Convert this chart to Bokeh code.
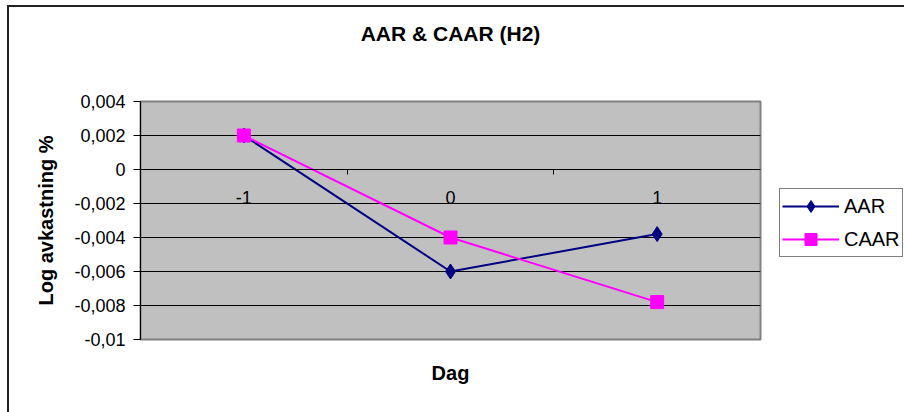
from bokeh.plotting import figure
from bokeh.layouts import row
from bokeh.models import (Range1d, FixedTicker, CustomJSTickFormatter, LinearAxis,
                          Legend, LegendItem)
from bokeh.core.properties import value
from bokeh.embed import file_html
from bokeh.resources import INLINE

# Event days and the abnormal-return series
days = ["-1", "0", "1"]
aar = [0.002, -0.006, -0.0038]
caar = [0.002, -0.004, -0.0078]
y_ticks = [-0.01, -0.008, -0.006, -0.004, -0.002, 0.0, 0.002, 0.004]

FONT = "Liberation Sans"
AAR_COLOR = "#000080"
CAAR_COLOR = "#FF00FF"

# categories sit in the middle of equal-width slots
xs = [i + 0.5 for i in range(len(days))]
slot_edges = [float(i) for i in range(1, len(days))]

p = figure(width=753, height=405, output_backend="svg", toolbar_location=None,
           x_range=Range1d(0, len(days)), y_range=Range1d(min(y_ticks), max(y_ticks)),
           x_axis_location=None, y_axis_location="left")
p.min_border_left = 131
p.min_border_right = 2
p.min_border_top = 94
p.min_border_bottom = 73
p.background_fill_color = "#C0C0C0"
p.border_fill_color = "white"
p.outline_line_color = "#808080"
p.outline_line_width = 2

# chart title, carried by a bare axis above the frame
tt = LinearAxis(ticker=FixedTicker(ticks=[]), axis_line_color=None,
                major_tick_line_color=None, minor_tick_line_color=None,
                major_label_text_font_size="0px", major_label_standoff=0,
                axis_label="AAR & CAAR (H2)", axis_label_standoff=57,
                axis_label_text_font=FONT, axis_label_text_font_size="21px",
                axis_label_text_font_style="bold", axis_label_text_color="black")
p.add_layout(tt, "above")

# value axis
ya = p.yaxis[0]
ya.ticker = FixedTicker(ticks=y_ticks, minor_ticks=[])
ya.formatter = CustomJSTickFormatter(code="""
    let s = tick.toFixed(3).replace(/0+$/, '').replace(/\\.$/, '');
    if (s === '-0') { s = '0'; }
    return s.replace('.', ',');
""")
ya.axis_line_color = "black"
ya.axis_line_width = 1
ya.major_tick_out = 7
ya.major_tick_in = 0
ya.major_tick_line_color = "black"
ya.minor_tick_line_color = None
ya.major_label_standoff = 8
ya.major_label_text_font = FONT
ya.major_label_text_font_size = "18px"
ya.major_label_text_color = "black"
ya.axis_label = "Log avkastning %"
ya.axis_label_text_font = FONT
ya.axis_label_text_font_size = "20px"
ya.axis_label_text_font_style = "bold"
ya.axis_label_text_color = "black"
ya.axis_label_standoff = 14

p.ygrid.ticker = FixedTicker(ticks=y_ticks)
p.ygrid.grid_line_color = "black"
p.ygrid.grid_line_width = 1
p.xgrid.grid_line_color = None

# category axis crossing at zero: line plus slot separators
xa = LinearAxis(fixed_location=0)
xa.ticker = FixedTicker(ticks=[], minor_ticks=slot_edges)
xa.axis_line_color = "black"
xa.major_tick_line_color = None
xa.major_tick_out = 0
xa.major_tick_in = 0
xa.minor_tick_line_color = "black"
xa.minor_tick_out = 5
xa.minor_tick_in = 0
xa.major_label_standoff = 0
xa.major_label_text_font_size = "0px"
p.add_layout(xa, "below")

# axis title below the frame
xt = LinearAxis(ticker=FixedTicker(ticks=[]), axis_line_color=None,
                major_tick_line_color=None, minor_tick_line_color=None,
                major_label_text_font_size="0px", major_label_standoff=0,
                axis_label="Dag", axis_label_standoff=22,
                axis_label_text_font=FONT, axis_label_text_font_size="20px",
                axis_label_text_font_style="bold", axis_label_text_color="black")
p.add_layout(xt, "below")

# category names under the zero line
p.text(x=xs, y=[0.0] * len(xs), text=days, y_offset=28,
       text_font=value(FONT), text_font_size="18px", text_color="black",
       text_align="center", text_baseline="middle")


def draw_series(fig, marker_size):
    a_line = fig.line(xs, aar, line_color=AAR_COLOR, line_width=2)
    a_pts = fig.scatter(xs, aar, marker="diamond", size=marker_size + 2,
                        fill_color=AAR_COLOR, line_color=AAR_COLOR)
    c_line = fig.line(xs, caar, line_color=CAAR_COLOR, line_width=2)
    c_pts = fig.scatter(xs, caar, marker="square", size=marker_size,
                        fill_color=CAAR_COLOR, line_color=CAAR_COLOR)
    return (a_line, a_pts), (c_line, c_pts)


draw_series(p, 13)

# legend panel beside the chart; its series lie outside its visible ranges
q = figure(width=142, height=405, output_backend="svg", toolbar_location=None,
           x_range=Range1d(len(days) + 1, len(days) + 2), y_range=Range1d(0, 1),
           x_axis_location=None, y_axis_location=None,
           min_border=0, outline_line_color=None)
q.grid.visible = False
q.background_fill_color = "white"
q.border_fill_color = "white"
(la, lc) = draw_series(q, 13)

legend = Legend(items=[LegendItem(label="AAR", renderers=list(la)),
                       LegendItem(label="CAAR", renderers=list(lc))],
                location=(17, 82), margin=0, padding=2, spacing=3,
                glyph_width=57, glyph_height=30, label_height=23, label_standoff=5,
                label_text_font=FONT, label_text_font_size="20px",
                label_text_color="black",
                border_line_color="black", border_line_width=1,
                background_fill_color="white", background_fill_alpha=1)
q.add_layout(legend)

layout = row(p, q)
layout.margin = (7, 0, 0, 9)
layout.styles = {"outline": "2px solid #222222"}

open("out.html", "w").write(file_html(layout, INLINE))
